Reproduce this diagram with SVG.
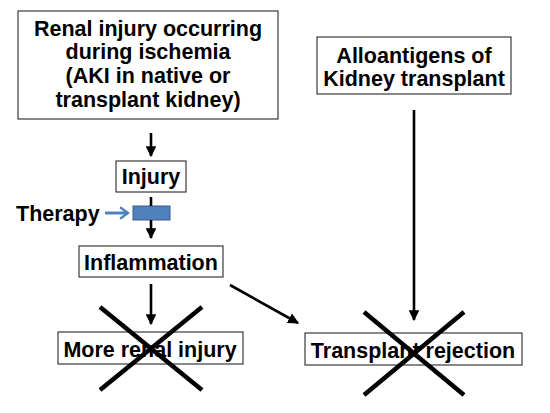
<svg xmlns="http://www.w3.org/2000/svg" width="550" height="413" viewBox="0 0 550 413">
<defs>
<style>
.box{fill:#fff;stroke:#3a3a3a;stroke-width:1.2}
.t{font-family:"Liberation Sans",Arial,sans-serif;font-weight:bold;font-size:21.5px;fill:#000;text-anchor:middle}
.ln{stroke:#000;stroke-width:2.6;fill:none}
.x{stroke:#000;stroke-width:4.5;fill:none}
</style>
<marker id="ah" viewBox="0 0 10 10" refX="9" refY="5" markerWidth="4.2" markerHeight="4.2" orient="auto" markerUnits="strokeWidth">
<path d="M0,0 L10,5 L0,10 z" fill="#000"/>
</marker>
<marker id="bh" viewBox="0 0 10 10" refX="8.5" refY="5" markerWidth="4.8" markerHeight="4.8" orient="auto" markerUnits="strokeWidth">
<path d="M3,1 L8.5,5 L3,9" fill="none" stroke="#4F81BD" stroke-width="1.6"/>
</marker>
</defs>
<rect width="550" height="413" fill="#fff"/>
<g id="n1">
<rect class="box" x="18" y="11" width="260" height="108"/>
<text class="t" x="148" y="36">Renal injury occurring</text>
<text class="t" x="148" y="59">during ischemia</text>
<text class="t" x="148" y="83">(AKI in native or</text>
<text class="t" x="148" y="107">transplant kidney)</text>
</g>
<g id="n2">
<rect class="box" x="317" y="37" width="194" height="57"/>
<text class="t" x="414" y="63">Alloantigens of</text>
<text class="t" x="414" y="86">Kidney transplant</text>
</g>
<g id="n3">
<rect class="box" x="116" y="161" width="70" height="31"/>
<text class="t" x="151" y="184">Injury</text>
</g>
<g id="therapy">
<text class="t" x="16" y="221" style="text-anchor:start">Therapy</text>
</g>
<g id="block">
<rect x="133" y="206" width="37" height="14" fill="#4F81BD" stroke="#385D8A" stroke-width="1"/>
</g>
<g id="n4">
<rect class="box" x="79" y="246" width="144" height="31"/>
<text class="t" x="151" y="270">Inflammation</text>
</g>
<g id="n5">
<rect class="box" x="58" y="332" width="185" height="32"/>
<text class="t" x="150" y="357">More renal injury</text>
</g>
<g id="n6">
<rect class="box" x="305" y="333" width="217" height="32"/>
<text class="t" x="413" y="358">Transplant rejection</text>
</g>
<g id="connectors">
<line class="ln" x1="151" y1="133" x2="151" y2="156" marker-end="url(#ah)"/>
<line class="ln" x1="151" y1="197" x2="151" y2="206"/>
<line class="ln" x1="151" y1="220" x2="151" y2="238" marker-end="url(#ah)"/>
<line x1="105" y1="213" x2="128" y2="213" stroke="#4F81BD" stroke-width="3" marker-end="url(#bh)"/>
<line class="ln" x1="151" y1="284" x2="151" y2="324" marker-end="url(#ah)"/>
<line class="ln" x1="230" y1="285" x2="298" y2="323" marker-end="url(#ah)"/>
<line class="ln" x1="414" y1="110" x2="414" y2="320" marker-end="url(#ah)"/>
</g>
<g id="crosses">
<line class="x" x1="100" y1="307" x2="202" y2="390"/>
<line class="x" x1="202" y1="307" x2="100" y2="390"/>
<line class="x" x1="364" y1="312" x2="464" y2="395"/>
<line class="x" x1="464" y1="312" x2="364" y2="395"/>
</g>
</svg>
